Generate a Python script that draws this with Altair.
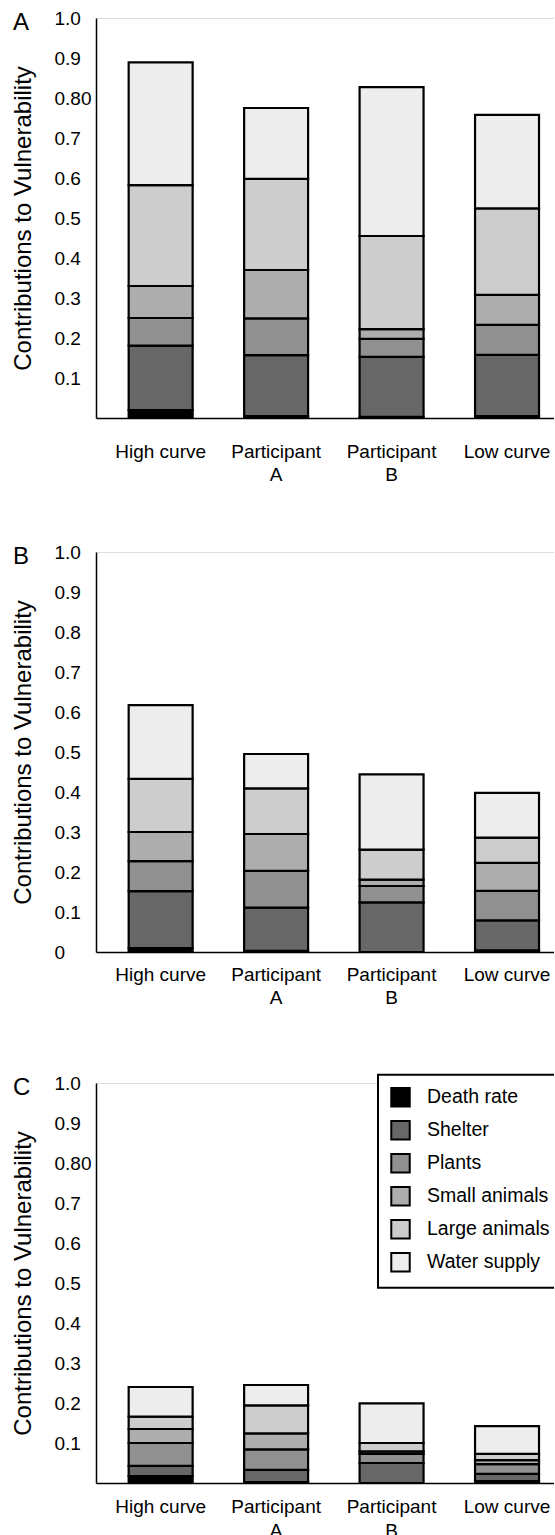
import altair as alt
import pandas as pd

FONT = "Liberation Sans"

categories = ["High curve", "Participant A", "Participant B", "Low curve"]
components = ["Death rate", "Shelter", "Plants", "Small animals", "Large animals", "Water supply"]
colors = ["#000000", "#676767", "#909090", "#adadad", "#cdcdcd", "#ededed"]

# values per component, ordered as categories (High curve, Participant A, Participant B, Low curve)
# Panel A
a_death_rate = [0.020, 0.005, 0.003, 0.005]
a_shelter = [0.161, 0.152, 0.150, 0.153]
a_plants = [0.069, 0.092, 0.045, 0.075]
a_small_animals = [0.080, 0.121, 0.024, 0.075]
a_large_animals = [0.252, 0.228, 0.233, 0.216]
a_water_supply = [0.307, 0.177, 0.372, 0.234]

# Panel B
b_death_rate = [0.010, 0.003, 0.000, 0.004]
b_shelter = [0.142, 0.108, 0.124, 0.075]
b_plants = [0.075, 0.092, 0.041, 0.074]
b_small_animals = [0.073, 0.092, 0.016, 0.070]
b_large_animals = [0.133, 0.114, 0.075, 0.063]
b_water_supply = [0.184, 0.086, 0.188, 0.112]

# Panel C
c_death_rate = [0.017, 0.002, 0.000, 0.005]
c_shelter = [0.026, 0.031, 0.050, 0.018]
c_plants = [0.057, 0.051, 0.023, 0.024]
c_small_animals = [0.035, 0.040, 0.006, 0.010]
c_large_animals = [0.031, 0.070, 0.021, 0.016]
c_water_supply = [0.074, 0.051, 0.099, 0.069]

tick_values = [0.0, 0.1, 0.2, 0.3, 0.4, 0.5, 0.6, 0.7, 0.8, 0.9, 1.0]
a_tick_labels = ["", "0.1", "0.2", "0.3", "0.4", "0.5", "0.6", "0.7", "0.80", "0.9", "1.0"]
b_tick_labels = ["0", "0.1", "0.2", "0.3", "0.4", "0.5", "0.6", "0.7", "0.8", "0.9", "1.0"]
c_tick_labels = ["", "0.1", "0.2", "0.3", "0.4", "0.5", "0.6", "0.7", "0.80", "0.9", "1.0"]

panel_letters = ["A", "B", "C"]


def make_df(series):
    rows = []
    for idx, (comp, vals) in enumerate(zip(components, series)):
        for cat, v in zip(categories, vals):
            rows.append({"category": cat, "component": comp, "value": v, "idx": idx})
    return pd.DataFrame(rows)


def label_expr(labels):
    arr = "[" + ",".join("'" + s + "'" for s in labels) + "]"
    return arr + "[round(datum.value * 10)]"


X_LABEL_EXPR = "indexof(datum.label, 'Participant') == 0 ? split(datum.label, ' ') : datum.label"


def panel(df, letter, tick_labels, legend, x_label_pad, x_line_height):
    x = alt.X(
        "category:N",
        sort=categories,
        scale=alt.Scale(paddingInner=0.446, paddingOuter=0.215, align=0.658),
        axis=alt.Axis(
            title=None, labelAngle=0, labelExpr=X_LABEL_EXPR, labelPadding=x_label_pad,
            labelLineHeight=x_line_height, ticks=False, tickSize=0, labelFontSize=19,
            labelFont=FONT, labelColor="black", domainColor="black", domainWidth=1.5,
        ),
    )
    y = alt.Y(
        "value:Q",
        stack="zero",
        scale=alt.Scale(domain=[0, 1], nice=False),
        axis=alt.Axis(
            title="Contributions to Vulnerability", values=tick_values,
            labelExpr=label_expr(tick_labels), labelAlign="left", labelPadding=42,
            ticks=False, tickSize=0, grid=False, labelFontSize=19, labelFont=FONT,
            labelColor="black", titleFontSize=24, titleFont=FONT, titleFontWeight="normal",
            titleColor="black", titlePadding=19, domainColor="black", domainWidth=1.5,
        ),
    )
    color = alt.Color(
        "component:N",
        scale=alt.Scale(domain=components, range=colors),
        legend=legend,
    )
    bars = alt.Chart(df).mark_bar(stroke="black", strokeWidth=2.2).encode(
        x=x, y=y, color=color, order=alt.Order("idx:Q", sort="ascending")
    )
    txt = alt.Chart(pd.DataFrame({"t": [letter]})).mark_text(
        align="left", baseline="alphabetic", fontSize=24, font=FONT, color="black"
    ).encode(text="t:N", x=alt.value(-83), y=alt.value(12))
    return alt.layer(bars, txt).properties(width=460, height=400)


legend_c = alt.Legend(
    title=None, orient="none", legendX=282, legendY=-8.3,
    symbolType="square", symbolSize=340, symbolStrokeColor="black",
    symbolStrokeWidth=2, symbolOpacity=1, labelFontSize=19.5, labelFont=FONT,
    labelColor="black", labelOffset=16, rowPadding=6, padding=12,
    strokeColor="black", fillColor="white",
)

pa = panel(make_df([a_death_rate, a_shelter, a_plants, a_small_animals, a_large_animals, a_water_supply]),
           panel_letters[0], a_tick_labels, None, 24, 23)
pb = panel(make_df([b_death_rate, b_shelter, b_plants, b_small_animals, b_large_animals, b_water_supply]),
           panel_letters[1], b_tick_labels, None, 13, 23)
pc = panel(make_df([c_death_rate, c_shelter, c_plants, c_small_animals, c_large_animals, c_water_supply]),
           panel_letters[2], c_tick_labels, legend_c, 14, 24)

top_two = alt.vconcat(pa, pb, spacing=57)
chart = alt.vconcat(top_two, pc, spacing=65).resolve_legend(color="independent").properties(
    padding={"left": 10, "top": 8, "right": -10, "bottom": -5}
).configure_view(stroke=None).configure(font=FONT)

try:
    chart2 = chart.configure_legend(strokeWidth=2)
    chart2.to_dict()
    chart = chart2
except Exception:
    pass

chart.save("out.html", embed_options={"renderer": "svg", "actions": False})
